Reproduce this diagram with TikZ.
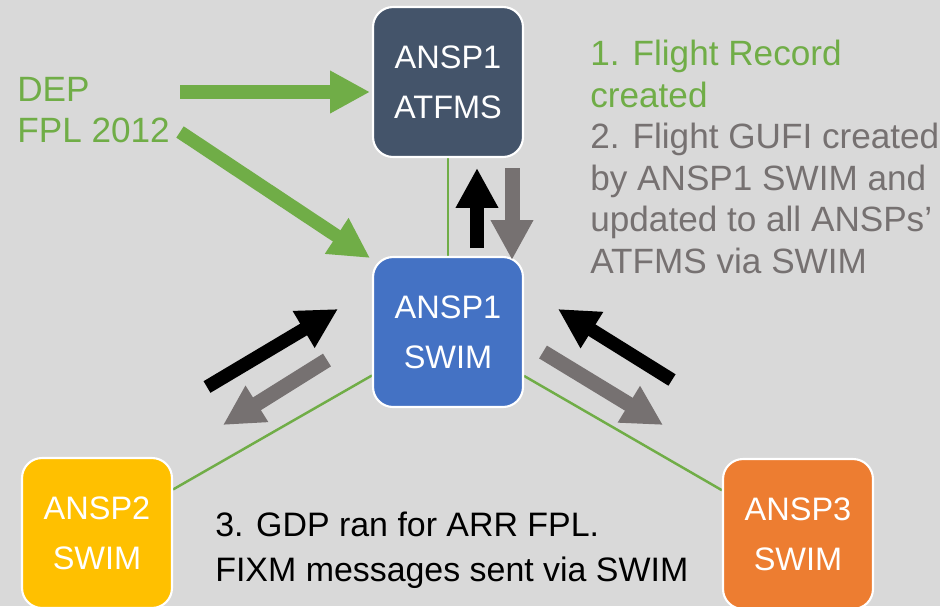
\documentclass[tikz,border=0pt]{standalone}
\usepackage{fontspec}
\setmainfont{Liberation Sans}
\usetikzlibrary{arrows.meta,backgrounds}
\definecolor{bggray}{HTML}{D9D9D9}
\definecolor{flgreen}{HTML}{70AD47}
\definecolor{msggray}{HTML}{767171}
\definecolor{atfmsblue}{HTML}{44546A}
\definecolor{swimblue}{HTML}{4472C4}
\definecolor{swimyellow}{HTML}{FFC000}
\definecolor{swimorange}{HTML}{ED7D31}
\tikzset{
  box/.style={draw=white, line width=1.2pt, rounded corners=0.4cm, minimum width=3cm,
    minimum height=3cm, inner sep=0pt, text=white, align=center,
    font=\fontsize{18.5pt}{28.5pt}\selectfont},
  link/.style={draw=flgreen, line width=1.4pt},
  fat/.style={line width=0.27cm, -{Triangle[width=0.8cm,length=0.8cm]}},
  note/.style={anchor=north west, inner sep=0pt, align=left,
    font=\fontsize{20pt}{23.6pt}\selectfont}
}

\begin{document}
\begin{tikzpicture}[x=0.02cm, y=-0.02cm]
		%%%%% START %%%%%
		\useasboundingbox (0, 0) rectangle (940, 606);
		
		% the four systems
		\node[box, fill=atfmsblue] (atfms) at (448, 82) {ANSP1\\ATFMS};
		\node[box, fill=swimblue] (swim1) at (448, 332) {ANSP1\\SWIM};
		\node[box, fill=swimyellow] (swim2) at (97, 533) {ANSP2\\SWIM};
		\node[box, fill=swimorange] (swim3) at (798, 534) {ANSP3\\SWIM};
		
		\begin{pgfonlayer}{background}
			\fill[bggray] (0, 0) rectangle (940, 606);
			\draw[link] (atfms) -- (swim1);
			\draw[link] (swim1) -- (swim2);
			\draw[link] (swim1) -- (swim3);
		\end{pgfonlayer}
		
		% texts
		\node[note, text=flgreen] (dep) at (17, 77) {DEP\\FPL 2012};
		\node[note] (step1) at (590, 40) {\textcolor{flgreen}{1. Flight Record}\\
			\textcolor{flgreen}{created}\\
			\textcolor{msggray}{2. Flight GUFI created}\\
			\textcolor{msggray}{by ANSP1 SWIM and}\\
			\textcolor{msggray}{updated to all ANSPs'}\\
			\textcolor{msggray}{ATFMS via SWIM}};
		\node[note, font=\fontsize{19.3pt}{25.6pt}\selectfont] (step3) at (215, 512)
			{3. GDP ran for ARR FPL.\\FIXM messages sent via SWIM};
		
		% arrow ends
		\coordinate (depA) at (180, 92);
		\coordinate (depB) at (180, 132);
		\coordinate (atfmsIn) at (370, 92);
		\coordinate (swimIn) at (370, 258);
		
		\coordinate (upA) at (477, 248);
		\coordinate (upB) at (477, 168);
		\coordinate (downA) at (512, 168);
		\coordinate (downB) at (512, 260);
		
		\coordinate (leftA) at (207, 387);
		\coordinate (leftB) at (338, 309);
		\coordinate (leftC) at (327, 360);
		\coordinate (leftD) at (223, 425);
		
		\coordinate (rightA) at (672, 380);
		\coordinate (rightB) at (558, 309);
		\coordinate (rightC) at (543, 352);
		\coordinate (rightD) at (663, 425);
		
		% flight plan in
		\draw[fat, flgreen] (depA) -- (atfmsIn);
		\draw[fat, flgreen] (depB) -- (swimIn);
		
		% messages
		\draw[fat, black] (upA) -- (upB);
		\draw[fat, msggray, line width=0.3cm] (downA) -- (downB);
		\draw[fat, black] (leftA) -- (leftB);
		\draw[fat, msggray, line width=0.3cm] (leftC) -- (leftD);
		\draw[fat, black] (rightA) -- (rightB);
		\draw[fat, msggray, line width=0.3cm] (rightC) -- (rightD);
		%%%%% END %%%%%
\end{tikzpicture}
\end{document}
